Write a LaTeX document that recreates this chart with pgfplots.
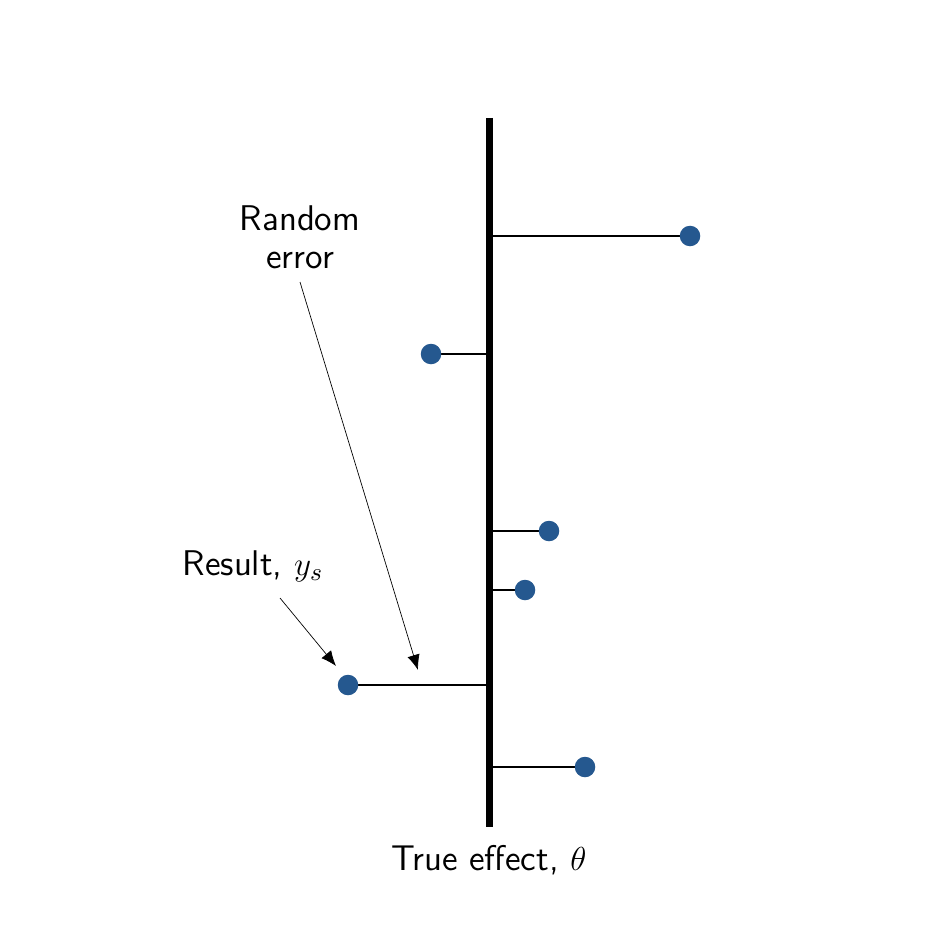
\documentclass[border=0pt]{standalone}
\usepackage{pgfplots}
\pgfplotsset{compat=1.18}
\usetikzlibrary{arrows.meta}
\definecolor{dotblue}{RGB}{37,88,143}
\begin{document}
\begin{tikzpicture}
\begin{axis}[
  scale only axis, width=12cm, height=12cm,
  xmin=-489, xmax=456, ymin=0, ymax=945, y dir=reverse,
  hide axis, clip=false,
]
% true effect line
\addplot[black, line width=2.3pt, line cap=butt] coordinates {(0.5,118) (0.5,827)};
% random errors
\addplot[black, line width=0.55pt] coordinates {(0,236) (201,236)};
\addplot[black, line width=0.55pt] coordinates {(0,354) (-58,354)};
\addplot[black, line width=0.55pt] coordinates {(0,531) (60,531)};
\addplot[black, line width=0.55pt] coordinates {(0,590) (36,590)};
\addplot[black, line width=0.55pt] coordinates {(0,685) (-141,685)};
\addplot[black, line width=0.55pt] coordinates {(0,767) (96,767)};
% results
\addplot[only marks, mark=*, mark size=3.5pt, color=dotblue] coordinates {
 (201,236) (-58,354) (60,531) (36,590) (-141,685) (96,767)};
\path (axis cs:-489,0) (axis cs:456,945);
\node[font=\sffamily\fontsize{12.9}{13.8}\selectfont, align=center] at (axis cs:-189,237) {Random\\error};
\node[font=\sffamily\fontsize{12.9}{13.8}\selectfont] at (axis cs:-236,566) {Result, $y_s$};
\node[font=\sffamily\fontsize{12.9}{13.8}\selectfont] at (axis cs:0,860) {True effect, $\theta$};
\draw[line width=0.25pt, -{Latex[length=5.5pt,width=4.5pt]}] (axis cs:-189,282) -- (axis cs:-71,670);
\draw[line width=0.25pt, -{Latex[length=5.5pt,width=4.5pt]}] (axis cs:-209,598) -- (axis cs:-153,666);
\end{axis}
\end{tikzpicture}
\end{document}
